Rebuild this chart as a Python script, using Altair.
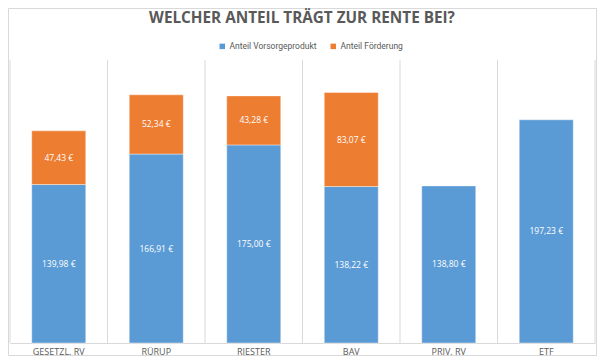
import altair as alt
import pandas as pd

categories = ["GESETZL. RV", "RÜRUP", "RIESTER", "BAV", "PRIV. RV", "ETF"]
vorsorge = [139.98, 166.91, 175.00, 138.22, 138.80, 197.23]
foerderung = [47.43, 52.34, 43.28, 83.07, 0.0, 0.0]
series = ["Anteil Vorsorgeprodukt", "Anteil Förderung"]
colors = ["#5B9BD5", "#ED7D31"]
title_text = "WELCHER ANTEIL TRÄGT ZUR RENTE BEI?"


def fmt(v):
    return f"{v:.2f}".replace(".", ",") + " €"


rows = []
for c, v, f in zip(categories, vorsorge, foerderung):
    rows.append({"cat": c, "series": series[0], "value": v, "ord": 0, "label": fmt(v)})
    if f > 0:
        rows.append({"cat": c, "series": series[1], "value": f, "ord": 1, "label": fmt(f)})
df = pd.DataFrame(rows)
cat_df = pd.DataFrame({"cat": categories})
one = pd.DataFrame({"t": [title_text]})

W, H = 585, 283

xscale = alt.Scale(paddingInner=0, paddingOuter=0)
xaxis = alt.Axis(labelAngle=0, ticks=False, domainColor="#D9D9D9",
                 labelColor="#595959", labelFontSize=9, labelFont="Open Sans",
                 labelPadding=4, grid=False, bandPosition=0.5)

base = alt.Chart(df).transform_stack(
    stack="value", groupby=["cat"], as_=["v0", "v1"], sort=[alt.SortField("ord")]
).transform_calculate(mid="(datum.v0 + datum.v1) / 2")

yscale = alt.Scale(domain=[0, 250])

grid = alt.Chart(cat_df).mark_rule(color="#D9D9D9", strokeWidth=1).encode(
    x=alt.X("cat:N", sort=categories, bandPosition=0, title=None, scale=xscale, axis=xaxis),
    y=alt.value(0), y2=alt.value(H),
)

bars = base.mark_bar(width=54, stroke="white", strokeWidth=0.8, strokeOpacity=0.5).encode(
    x=alt.X("cat:N", sort=categories, title=None, scale=xscale, axis=xaxis),
    y=alt.Y("v0:Q", scale=yscale, axis=None),
    y2="v1:Q",
    color=alt.Color("series:N", scale=alt.Scale(domain=series, range=colors),
                    legend=alt.Legend(title=None, orient="none", legendX=208, legendY=-18,
                                      direction="horizontal", symbolType="square",
                                      symbolSize=30, labelFontSize=8.5, labelFont="Roboto",
                                      labelColor="#595959", columnPadding=12,
                                      symbolStrokeWidth=0, labelOffset=3)),
)

texts = base.mark_text(color="white", fontSize=8.5, font="Open Sans").encode(
    x=alt.X("cat:N", sort=categories, title=None, scale=xscale, axis=xaxis),
    y=alt.Y("mid:Q", scale=yscale, axis=None),
    text="label:N",
)

right_rule = alt.Chart(one).mark_rule(color="#D9D9D9", strokeWidth=1).encode(
    x=alt.value(W), y=alt.value(0), y2=alt.value(H)
)

border = alt.Chart(one).mark_rect(fillOpacity=0, stroke="#D9D9D9", strokeWidth=1).encode(
    x=alt.value(-1.5), x2=alt.value(586.5), y=alt.value(-51.5), y2=alt.value(295.5)
)

title = alt.Chart(one).mark_text(fontSize=15.3, font="Open Sans", fontWeight="bold",
                                 color="#595959", align="center", baseline="middle").encode(
    x=alt.value(292), y=alt.value(-42), text="t:N"
)

chart = alt.layer(grid, border, right_rule, bars, texts, title).properties(
    width=W, height=H,
    autosize=alt.AutoSizeParams(type="none"),
    padding={"left": 2, "top": 52, "right": 2, "bottom": 13},
).configure_view(stroke=None)

chart.save("out.html", embed_options={"renderer": "svg", "actions": False})
